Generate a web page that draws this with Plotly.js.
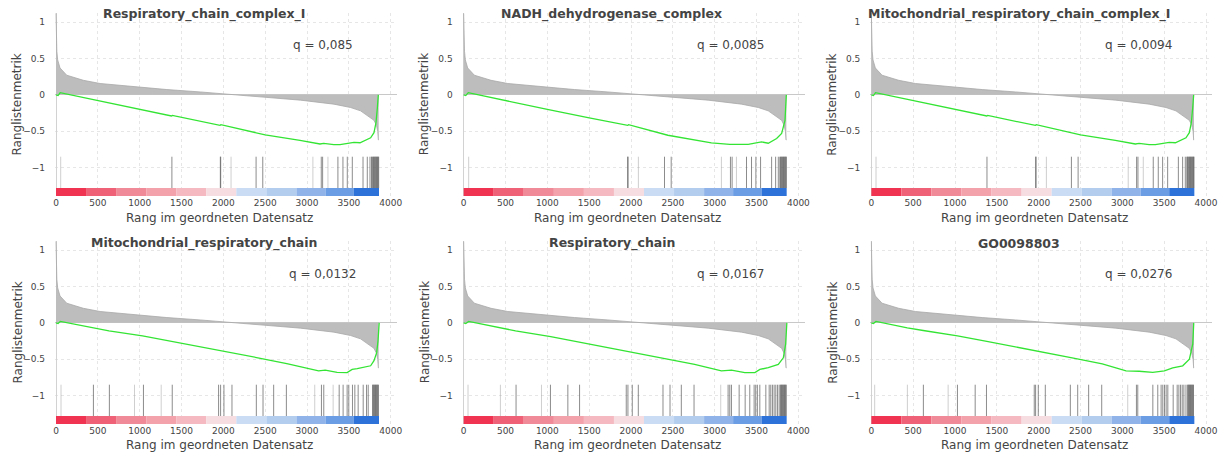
<!DOCTYPE html>
<html><head><meta charset="utf-8">
<script src="https://cdn.plot.ly/plotly-3.0.1.min.js"></script>
<style>html,body{margin:0;padding:0;background:#fff}#chart{width:1223px;height:455px}</style>
</head><body><div id="chart"></div>
<script>
// ---------- data ----------
const panelTitles = ['Respiratory_chain_complex_I', 'NADH_dehydrogenase_complex', 'Mitochondrial_respiratory_chain_complex_I',
                     'Mitochondrial_respiratory_chain', 'Respiratory_chain', 'GO0098803'];
const qLabels = ['q = 0,085', 'q = 0,0085', 'q = 0,0094', 'q = 0,0132', 'q = 0,0167', 'q = 0,0276'];
const xTitle = 'Rang im geordneten Datensatz';
const yTitle = 'Ranglistenmetrik';

// ranked list metric (same ranked list in every panel)
const metricRank  = [0, 4, 10, 20, 48, 128, 327, 527, 926, 1325, 1724, 2124, 2523, 2922, 3321, 3521, 3640, 3720, 3800, 3830, 3845, 3852, 3856];
const metricValue = [1.12, 0.8, 0.6, 0.48, 0.37, 0.27, 0.2, 0.156, 0.11, 0.073, 0.04, 0.005, -0.028, -0.073, -0.128, -0.174, -0.22, -0.28, -0.35, -0.42, -0.5, -0.62, -0.62];

// running enrichment score per panel
const esRank1 = [0, 25, 50, 500, 1000, 1380, 1390, 1960, 1970, 2500, 2916, 3042, 3155, 3200, 3320, 3394, 3480, 3513, 3560, 3633, 3713, 3760, 3800, 3824, 3840, 3852];
const esValue1 = [0, -0.01, 0.03, -0.08, -0.2, -0.29, -0.283, -0.42, -0.41, -0.55, -0.625, -0.655, -0.675, -0.668, -0.685, -0.685, -0.668, -0.655, -0.652, -0.658, -0.62, -0.59, -0.52, -0.38, -0.18, 0];
const esRank2 = [0, 25, 55, 500, 1000, 1500, 1960, 1970, 2440, 2960, 3180, 3400, 3560, 3640, 3740, 3800, 3840, 3856];
const esValue2 = [0, -0.01, 0.03, -0.08, -0.2, -0.315, -0.42, -0.41, -0.555, -0.66, -0.68, -0.68, -0.647, -0.665, -0.6, -0.53, -0.35, 0];
const esRank3 = esRank1;
const esValue3 = esValue1;
const esRank4 = [0, 25, 52, 441, 633, 1034, 1395, 1956, 2397, 2758, 3138, 3218, 3359, 3479, 3539, 3600, 3679, 3760, 3800, 3832, 3848, 3862];
const esValue4 = [0, -0.01, 0.02, -0.073, -0.11, -0.18, -0.257, -0.376, -0.477, -0.56, -0.66, -0.65, -0.68, -0.683, -0.64, -0.63, -0.615, -0.59, -0.52, -0.41, -0.25, 0];
const esRank5 = [0, 25, 60, 440, 620, 1040, 1400, 1960, 2400, 2760, 3080, 3200, 3360, 3480, 3540, 3640, 3760, 3820, 3848, 3862];
const esValue5 = [0, -0.01, 0.02, -0.073, -0.11, -0.19, -0.27, -0.385, -0.486, -0.57, -0.66, -0.65, -0.683, -0.683, -0.64, -0.615, -0.57, -0.48, -0.29, 0];
const esRank6 = [0, 25, 55, 430, 620, 1030, 1380, 1960, 2400, 2760, 3044, 3200, 3363, 3502, 3602, 3721, 3801, 3841, 3853];
const esValue6 = [0, -0.01, 0.02, -0.07, -0.105, -0.18, -0.255, -0.38, -0.48, -0.565, -0.66, -0.665, -0.68, -0.66, -0.62, -0.59, -0.5, -0.29, 0];

// gene set hits (strong / faint marks)
const hitsStrong1 = [1385, 1964, 1968, 2391, 2471, 3170, 3186, 3369, 3429, 3481, 3541, 3669, 3720, 3752, 3770, 3778, 3786, 3794, 3801, 3808, 3815, 3822, 3829, 3836, 3843, 3850, 3856];
const hitsFaint1 = [56, 2092, 3070, 3250];
const hitsStrong2 = [1960, 1964, 2400, 2480, 3188, 3208, 3380, 3440, 3492, 3548, 3680, 3728, 3760, 3778, 3786, 3794, 3801, 3808, 3815, 3822, 3829, 3836, 3843, 3850, 3856];
const hitsFaint2 = [60, 2088, 3080, 3260];
const hitsStrong3 = [1382, 1964, 1968, 2391, 2471, 3170, 3186, 3369, 3429, 3481, 3541, 3669, 3720, 3752, 3770, 3778, 3786, 3794, 3801, 3808, 3815, 3822, 3829, 3836, 3843, 3850, 3856];
const hitsFaint3 = [56, 2092, 3070, 3250];
const hitsStrong4 = [447, 638, 1045, 1389, 1943, 1967, 2007, 2103, 2394, 2474, 2601, 2753, 3172, 3200, 3384, 3431, 3479, 3499, 3543, 3571, 3611, 3671, 3711, 3731, 3783, 3790, 3797, 3804, 3811, 3818, 3825, 3832, 3839, 3846, 3853];
const hitsFaint4 = [60, 938, 1257, 3092, 3312];
const hitsStrong5 = [626, 1037, 1245, 1385, 1943, 1963, 2015, 2087, 2382, 2466, 2601, 2753, 3160, 3180, 3200, 3292, 3364, 3419, 3471, 3490, 3510, 3539, 3611, 3651, 3670, 3690, 3710, 3730, 3750, 3770, 3785, 3792, 3799, 3806, 3813, 3820, 3827, 3834, 3841, 3848, 3855];
const hitsFaint5 = [52, 439, 930, 3072];
const hitsStrong6 = [622, 1029, 1241, 1376, 1947, 1963, 1995, 2079, 2378, 2466, 2597, 2753, 3168, 3184, 3364, 3423, 3463, 3483, 3503, 3523, 3543, 3607, 3655, 3675, 3695, 3715, 3735, 3760, 3780, 3787, 3794, 3801, 3808, 3815, 3822, 3829, 3836, 3843, 3850];
const hitsFaint6 = [40, 431, 918, 3064];

// rank bins of the colour band
const binEdges = [0, 359, 718, 1078, 1437, 1796, 2155, 2514, 2873, 3220, 3560, 3860];
const binColors = ['#ef3350', '#ef6176', '#f18a98', '#f3a2ac', '#f5b9c1', '#f6dde1', '#cadcf3', '#b3cdef', '#90b4ea', '#6b9de4', '#2d72d9'];

// ---------- build ----------
const esRanks = [esRank1, esRank2, esRank3, esRank4, esRank5, esRank6];
const esValues = [esValue1, esValue2, esValue3, esValue4, esValue5, esValue6];
const hitsStrong = [hitsStrong1, hitsStrong2, hitsStrong3, hitsStrong4, hitsStrong5, hitsStrong6];
const hitsFaint = [hitsFaint1, hitsFaint2, hitsFaint3, hitsFaint4, hitsFaint5, hitsFaint6];

const W = 1223, H = 455, colW = W / 3;
const HIT_TOP = -0.85, HIT_BOT = -1.28, BAND_BOT = -1.39, BAND_TOP = -1.28;
const txt = '#444', font = 'DejaVu Sans, Verdana, sans-serif';

function segs(arr) {
  const x = [], y = [];
  arr.forEach(h => { x.push(h, h, null); y.push(HIT_TOP, HIT_BOT, null); });
  return {x, y};
}

const traces = [];
const layout = {
  width: W, height: H, margin: {l: 0, r: 0, t: 0, b: 0},
  paper_bgcolor: '#fff', plot_bgcolor: '#fff', showlegend: false,
  font: {family: font, color: txt, size: 9},
  annotations: []
};

const rowsPx = [[13, 196], [241, 424]];
for (let p = 0; p < 6; p++) {
  const c = p % 3, r = Math.floor(p / 3);
  const k = p + 1, sx = k === 1 ? '' : String(k);
  const xa = 'x' + sx, ya = 'y' + sx;
  const left = 55 + colW * c, right = 397 + colW * c;
  const [top, bot] = rowsPx[r];

  layout['xaxis' + sx] = {
    domain: [left / W, right / W], anchor: ya, range: [-12, 4075],
    tick0: 0, dtick: 500, ticks: '', showline: false,
    showgrid: true, gridcolor: '#e6e6e6', griddash: 'dot', gridwidth: 1,
    zeroline: true, zerolinecolor: '#d2d2d2', zerolinewidth: 1,
    tickfont: {size: 9, color: txt, family: font}, fixedrange: true
  };
  layout['yaxis' + sx] = {
    domain: [1 - bot / H, 1 - top / H], anchor: xa, range: [BAND_BOT, 1.125],
    tickvals: [-1, -0.5, 0, 0.5, 1], ticks: '', showline: false,
    showgrid: true, gridcolor: '#e6e6e6', griddash: 'dot', gridwidth: 1,
    zeroline: true, zerolinecolor: '#c8c8c8', zerolinewidth: 1,
    ticklabelstandoff: 9,
    tickfont: {size: 9, color: txt, family: font}, fixedrange: true
  };

  // ranked metric area
  traces.push({type: 'scatter', mode: 'lines', x: metricRank, y: metricValue, xaxis: xa, yaxis: ya,
    fill: 'tozeroy', fillcolor: '#bdbdbd', line: {color: '#a8a8a8', width: 0.8}, hoverinfo: 'skip'});
  // running ES
  traces.push({type: 'scatter', mode: 'lines', x: esRanks[p], y: esValues[p], xaxis: xa, yaxis: ya,
    line: {color: 'rgb(52,228,52)', width: 1.3}, hoverinfo: 'skip'});
  // hits
  const f = segs(hitsFaint[p]);
  traces.push({type: 'scatter', mode: 'lines', x: f.x, y: f.y, xaxis: xa, yaxis: ya,
    line: {color: 'rgba(160,160,160,0.5)', width: 1}, hoverinfo: 'skip'});
  const s = segs(hitsStrong[p]);
  traces.push({type: 'scatter', mode: 'lines', x: s.x, y: s.y, xaxis: xa, yaxis: ya,
    line: {color: 'rgba(95,95,95,0.72)', width: 1}, hoverinfo: 'skip'});
  // colour band
  const mids = [], widths = [], heights = [], bases = [];
  for (let i = 0; i < binColors.length; i++) {
    mids.push((binEdges[i] + binEdges[i + 1]) / 2);
    widths.push(binEdges[i + 1] - binEdges[i]);
    heights.push(BAND_TOP - BAND_BOT);
    bases.push(BAND_BOT);
  }
  traces.push({type: 'bar', x: mids, y: heights, base: bases, width: widths, xaxis: xa, yaxis: ya,
    marker: {color: binColors, line: {width: 0}}, hoverinfo: 'skip'});

  // panel title
  layout.annotations.push({xref: 'paper', yref: 'paper', x: (colW * c + colW / 2) / W, y: 1 - (r === 0 ? 14 : 243) / H,
    xanchor: 'center', yanchor: 'middle', showarrow: false,
    text: '<b>' + panelTitles[p] + '</b>', font: {family: font, size: 12.5, color: txt}});
  // q value
  layout.annotations.push({xref: xa, yref: ya, x: 3190, y: r === 0 ? 0.69 : 0.675,
    xanchor: 'center', yanchor: 'middle', showarrow: false,
    text: qLabels[p], font: {family: font, size: 12, color: txt}});
  // x title
  layout.annotations.push({xref: 'paper', yref: 'paper', x: (left + 164.5) / W, y: 1 - (r === 0 ? 218 : 445) / H,
    xanchor: 'center', yanchor: 'middle', showarrow: false,
    text: xTitle, font: {family: font, size: 12, color: txt}});
  // y title
  layout.annotations.push({xref: 'paper', yref: 'paper', x: (colW * c + 17) / W, y: 1 - ((top + bot) / 2) / H,
    xanchor: 'center', yanchor: 'middle', showarrow: false, textangle: -90,
    text: yTitle, font: {family: font, size: 12, color: txt}});
}

Plotly.newPlot('chart', traces, layout, {displayModeBar: false, staticPlot: true});
</script>
</body></html>
